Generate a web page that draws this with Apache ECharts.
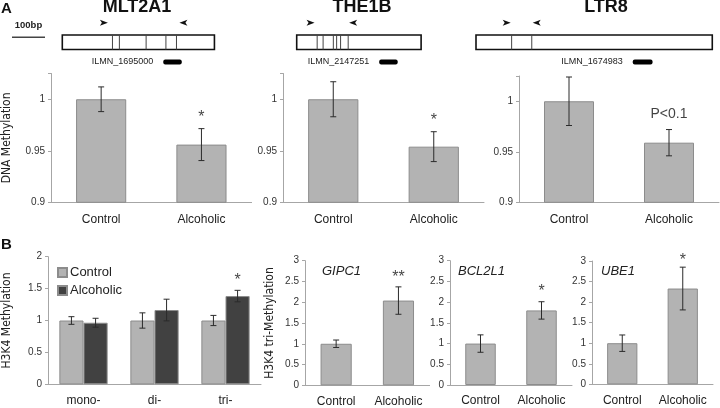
<!DOCTYPE html>
<html>
<head>
<meta charset="utf-8">
<script src="https://cdn.jsdelivr.net/npm/echarts@6/dist/echarts.min.js"></script>
<style>
html,body{margin:0;padding:0;background:#fff}
#main{width:720px;height:408px}
</style>
</head>
<body>
<div id="main"></div>
<script>
// ---- panel A : DNA methylation of the repeats ----
const groups = ['Control', 'Alcoholic'];
const repeatNames = ['MLT2A1', 'THE1B', 'LTR8'];
const mlt2a1Val = [1.0, 0.956];
const mlt2a1Err = [0.012, 0.0155];
const the1bVal = [1.0, 0.954];
const the1bErr = [0.017, 0.0145];
const ltr8Val = [1.0, 0.959];
const ltr8Err = [0.024, 0.013];
const sigA = ['*', '*', 'P<0.1'];
const sigAPos = [0.9875, 0.984, 0.987];

// repeat element maps (bp)
const scaleBarBp = 100;
const mlt2a1Len = 461, mlt2a1Cuts = [152, 173, 254, 314, 346], mlt2a1Primers = [126, 367], mlt2a1Probe = [306, 362];
const the1bLen = 377, the1bCuts = [62, 80, 111, 121, 133, 156], the1bPrimers = [42, 171], the1bProbe = [250, 306];
const ltr8Len = 716, ltr8Cuts = [108, 169], ltr8Primers = [93, 184], ltr8Probe = [475, 535];
const probeIds = ['ILMN_1695000', 'ILMN_2147251', 'ILMN_1674983'];

// ---- panel B : H3K4 methylation ----
const marks = ['mono-', 'di-', 'tri-'];
const h3k4Ctrl = [1.0, 1.0, 1.0];
const h3k4CtrlErr = [0.06, 0.12, 0.08];
const h3k4Alc = [0.965, 1.164, 1.383];
const h3k4AlcErr = [0.07, 0.17, 0.09];
const sigB1 = ['*'], sigB1Pos = [1.7];

const genes = ['GIPC1', 'BCL2L1', 'UBE1'];
const gipc1Val = [1.0, 2.04], gipc1Err = [0.09, 0.33];
const bcl2l1Val = [1.0, 1.80], bcl2l1Err = [0.21, 0.21];
const ube1Val = [1.0, 2.33], ube1Err = [0.2, 0.52];
const sigGenes = ['**', '*', '*'];
const sigGenesPos = [2.71, 2.38, 3.12];

const FONT = 'Liberation Sans, Arial, sans-serif';
const NARROW = 'Liberation Sans Narrow, DejaVu Sans Condensed, sans-serif';
const LIGHT = '#b3b3b3', DARK = '#414141', EDGE = '#8c8c8c', AXIS = '#a6a6a6';
const pxPerBp = 0.33;

const chart = echarts.init(document.getElementById('main'));

function errSeries(name, idx, vals, errs, shift) {
  return {
    name: name, type: 'custom', xAxisIndex: idx, yAxisIndex: idx, z: 4,
    data: vals.map((v, i) => [i, v - errs[i], v + errs[i]]),
    renderItem: function (params, api) {
      const hi = api.coord([api.value(0), api.value(2)]);
      const lo = api.coord([api.value(0), api.value(1)]);
      const cx = hi[0] + api.size([1, 0])[0] * shift;
      const st = {stroke: '#2b2b2b', lineWidth: 1};
      return {type: 'group', children: [
        {type: 'line', shape: {x1: cx, y1: hi[1], x2: cx, y2: lo[1]}, style: st},
        {type: 'line', shape: {x1: cx - 3, y1: hi[1], x2: cx + 3, y2: hi[1]}, style: st},
        {type: 'line', shape: {x1: cx - 3, y1: lo[1], x2: cx + 3, y2: lo[1]}, style: st}
      ]};
    }
  };
}

function sigSeries(idx, cats, pos, texts, size, dx) {
  return {
    type: 'scatter', xAxisIndex: idx, yAxisIndex: idx, symbolSize: 0, clip: false, silent: true,
    data: pos.map((p, i) => [cats[i], p]),
    label: {
      show: true, position: 'inside', color: '#111', fontFamily: FONT, fontSize: size,
      offset: [dx || 0, texts[0].indexOf('*') >= 0 ? 5 : 0],
      formatter: p => texts[p.dataIndex]
    }
  };
}

function barSeries(name, idx, vals, color, gap) {
  return {
    name: name, type: 'bar', xAxisIndex: idx, yAxisIndex: idx,
    data: vals, barCategoryGap: gap, barGap: '0%',
    itemStyle: {color: color, borderColor: EDGE, borderWidth: 1}
  };
}

function diagramSeries(idx, len, cuts, primers, probe, probeId) {
  const px = (api, v) => api.coord([v, 0])[0];
  return [
    {type: 'custom', xAxisIndex: idx, yAxisIndex: idx, silent: true, z: 2, data: [[0, len]],
      renderItem: (params, api) => ({type: 'rect',
        shape: {x: px(api, api.value(0)), y: params.coordSys.y + 17, width: px(api, api.value(1)) - px(api, api.value(0)), height: 14.5},
        style: {fill: '#fff', stroke: '#111', lineWidth: 1.6}})},
    {type: 'custom', xAxisIndex: idx, yAxisIndex: idx, silent: true, z: 3, data: cuts.map(c => [c]),
      renderItem: (params, api) => {
        const x = px(api, api.value(0)), y = params.coordSys.y + 17;
        return {type: 'line', shape: {x1: x, y1: y, x2: x, y2: y + 14.5}, style: {stroke: '#444', lineWidth: 1}};
      }},
    {type: 'custom', xAxisIndex: idx, yAxisIndex: idx, silent: true, z: 3, data: primers.map((p, i) => [p, i === 0 ? 1 : -1]),
      renderItem: (params, api) => {
        const x = px(api, api.value(0)), d = api.value(1), y = params.coordSys.y + 4.7;
        return {type: 'polygon', shape: {points: [[x - 4 * d, y - 3], [x + 4 * d, y], [x - 4 * d, y + 3], [x - 2 * d, y]]},
          style: {fill: '#111'}};
      }},
    {type: 'custom', xAxisIndex: idx, yAxisIndex: idx, silent: true, z: 3, data: [probe],
      renderItem: (params, api) => {
        const x0 = px(api, api.value(0)), x1 = px(api, api.value(1)), y = params.coordSys.y + 44;
        return {type: 'group', children: [
          {type: 'rect', shape: {x: x0, y: y - 2.5, width: x1 - x0, height: 5, r: 2}, style: {fill: '#000'}},
          {type: 'text', x: x0 - 10, y: y, style: {text: probeId, fontFamily: FONT, fontSize: 9, fill: '#222', align: 'right', verticalAlign: 'middle'}}
        ]};
      }}
  ];
}

const gridsA = [
  {left: 50, top: 73.5, width: 201.6, height: 128.8},
  {left: 283, top: 73.5, width: 201, height: 128.8},
  {left: 519, top: 76, width: 200, height: 126.3}
];
const gridsB = [
  {left: 43.5, top: 256.7, width: 217.5, height: 127.6},
  {left: 305, top: 260.7, width: 124.6, height: 124.6},
  {left: 450, top: 260.7, width: 122, height: 124.3},
  {left: 592, top: 261, width: 121, height: 123.3}
];
const gridsMap = [
  {left: 62.3, top: 18, width: mlt2a1Len * pxPerBp, height: 50},
  {left: 296.7, top: 18, width: the1bLen * pxPerBp, height: 50},
  {left: 476, top: 18, width: ltr8Len * pxPerBp, height: 50},
  {left: 12, top: 18, width: scaleBarBp * pxPerBp, height: 50}
];

const catAxis = (idx, data, margin) => ({
  type: 'category', gridIndex: idx, data: data,
  axisLine: {lineStyle: {color: AXIS}}, axisTick: {show: false},
  axisLabel: {color: '#222', fontFamily: FONT, fontSize: 12, margin: margin, interval: 0, hideOverlap: false}
});
const valAxis = (idx, min, max, interval, name, gap, labelSize) => ({
  type: 'value', gridIndex: idx, min: min, max: max, interval: interval,
  splitLine: {show: false},
  axisLine: {show: true, lineStyle: {color: AXIS}},
  axisTick: {show: true, length: 3, lineStyle: {color: AXIS}},
  axisLabel: {color: '#333', fontFamily: FONT, fontSize: labelSize, margin: 6,
    formatter: v => (v > max - 1e-9 && max === 1.025) ? '' : String(+v.toFixed(3))},
  name: name, nameLocation: 'middle', nameGap: gap,
  nameTextStyle: {fontFamily: NARROW, fontSize: 12, color: '#222'}
});

const xAxes = [], yAxes = [];
gridsA.forEach((g, i) => {
  xAxes.push(catAxis(i, groups, 11));
  yAxes.push(valAxis(i, 0.9, 1.025, 0.05, i === 0 ? 'DNA Methylation' : '', 38, 10));
});
xAxes.push(catAxis(3, marks, 10));
yAxes.push(valAxis(3, 0, 2, 0.5, 'H3K4 Methylation', 35, 10));
[4, 5, 6].forEach(i => {
  xAxes.push(catAxis(i, groups, 10));
  yAxes.push(valAxis(i, 0, 3, 0.5, i === 4 ? 'H3K4 tri-Methylation' : '', 29, 10));
});
gridsMap.forEach((g, k) => {
  const len = [mlt2a1Len, the1bLen, ltr8Len, scaleBarBp][k];
  xAxes.push({type: 'value', gridIndex: 7 + k, min: 0, max: len, show: false});
  yAxes.push({type: 'value', gridIndex: 7 + k, min: 0, max: 1, show: false});
});

const valsA = [mlt2a1Val, the1bVal, ltr8Val], errsA = [mlt2a1Err, the1bErr, ltr8Err];
const valsG = [gipc1Val, bcl2l1Val, ube1Val], errsG = [gipc1Err, bcl2l1Err, ube1Err];

const series = [];
valsA.forEach((v, i) => {
  series.push(barSeries(repeatNames[i], i, v, LIGHT, '50%'));
  series.push(errSeries(repeatNames[i] + ' err', i, v, errsA[i], 0));
  series.push(sigSeries(i, [1], [sigAPos[i]], [sigA[i]], sigA[i] === '*' ? 16 : 14));
});
series.push(barSeries('Control', 3, h3k4Ctrl, LIGHT, '32%'));
series.push(barSeries('Alcoholic', 3, h3k4Alc, DARK, '32%'));
series.push(errSeries('Control err', 3, h3k4Ctrl, h3k4CtrlErr, -0.17));
series.push(errSeries('Alcoholic err', 3, h3k4Alc, h3k4AlcErr, 0.17));
series.push(sigSeries(3, [2], sigB1Pos, sigB1, 16, 12));
valsG.forEach((v, i) => {
  series.push(barSeries(genes[i], 4 + i, v, LIGHT, '50%'));
  series.push(errSeries(genes[i] + ' err', 4 + i, v, errsG[i], 0));
  series.push(sigSeries(4 + i, [1], [sigGenesPos[i]], [sigGenes[i]], 16));
});
series.push(...diagramSeries(7, mlt2a1Len, mlt2a1Cuts, mlt2a1Primers, mlt2a1Probe, probeIds[0]));
series.push(...diagramSeries(8, the1bLen, the1bCuts, the1bPrimers, the1bProbe, probeIds[1]));
series.push(...diagramSeries(9, ltr8Len, ltr8Cuts, ltr8Primers, ltr8Probe, probeIds[2]));
// 100bp scale bar
series.push({type: 'custom', xAxisIndex: 10, yAxisIndex: 10, silent: true, data: [[0, scaleBarBp]],
  renderItem: (params, api) => {
    const a = api.coord([api.value(0), 0])[0], b = api.coord([api.value(1), 0])[0], y = params.coordSys.y;
    return {type: 'group', children: [
      {type: 'line', shape: {x1: a, y1: y + 19.3, x2: b, y2: y + 19.3}, style: {stroke: '#444', lineWidth: 1.5}},
      {type: 'text', x: (a + b) / 2, y: y + 7.5, style: {text: api.value(1) + 'bp', fontFamily: FONT, fontWeight: 'bold', fontSize: 9.5, fill: '#222', align: 'center', verticalAlign: 'middle'}}
    ]};
  }});

const titleBase = {padding: 0, textStyle: {fontFamily: FONT, fontWeight: 'bold', fontSize: 18, color: '#111'}};
const geneStyle = {fontFamily: FONT, fontStyle: 'italic', fontWeight: 'normal', fontSize: 13, color: '#222'};
const option = {
  animation: false,
  backgroundColor: '#fff',
  title: [
    Object.assign({text: 'A', left: 1, top: 1}, titleBase, {textStyle: Object.assign({}, titleBase.textStyle, {fontSize: 15})}),
    Object.assign({text: 'B', left: 1, top: 237}, titleBase, {textStyle: Object.assign({}, titleBase.textStyle, {fontSize: 15})}),
    Object.assign({text: repeatNames[0], left: 137, top: -2, textAlign: 'center'}, titleBase),
    Object.assign({text: repeatNames[1], left: 362, top: -2, textAlign: 'center'}, titleBase),
    Object.assign({text: repeatNames[2], left: 606, top: -2, textAlign: 'center'}, titleBase),
    {text: genes[0], left: 322, top: 265, padding: 0, textStyle: geneStyle},
    {text: genes[1], left: 458, top: 265, padding: 0, textStyle: geneStyle},
    {text: genes[2], left: 601, top: 265, padding: 0, textStyle: geneStyle}
  ],
  legend: {
    data: ['Control', 'Alcoholic'], orient: 'vertical', left: 52, top: 261,
    itemWidth: 9, itemHeight: 9, itemGap: 5, icon: 'rect',
    textStyle: {fontFamily: FONT, fontSize: 13, color: '#222', padding: [0, 0, 0, -2]},
    selectedMode: false
  },
  grid: gridsA.concat(gridsB, gridsMap),
  xAxis: xAxes,
  yAxis: yAxes,
  series: series
};
chart.setOption(option);
</script>
</body>
</html>
